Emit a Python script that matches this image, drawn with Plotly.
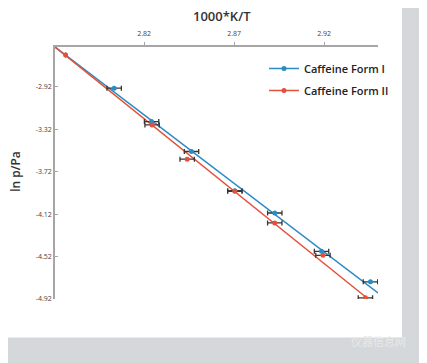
import plotly.graph_objects as go

# Data
form1_x = [2.8033, 2.8241, 2.8463, 2.8704, 2.8926, 2.9186, 2.9458]
form1_y = [-2.932, -3.247, -3.529, -3.899, -4.109, -4.470, -4.758]
form1_err = [0.004, 0.004, 0.004, 0.004, 0.004, 0.004, 0.004]
form2_x = [2.7763, 2.8244, 2.8439, 2.8704, 2.8926, 2.9194, 2.9430]
form2_y = [-2.619, -3.278, -3.601, -3.905, -4.203, -4.508, -4.909]
form2_err = [0.0, 0.004, 0.004, 0.004, 0.004, 0.004, 0.004]

trend1_x = [2.7704, 2.9500]
trend1_y = [-2.5435, -4.8617]
trend2_x = [2.7704, 2.9432]
trend2_y = [-2.5435, -4.9012]

x_ticks = [2.82, 2.87, 2.92]
y_ticks = [-2.92, -3.32, -3.72, -4.12, -4.52, -4.92]

names = ["Caffeine Form I", "Caffeine Form II"]
blue = "#2a8cc4"
red = "#e4503a"
err_col = "#3a3434"

# the page body has an 8px margin; work in reference pixels and shift
OFF = 8
W, H = 427 - OFF, 363 - OFF
L, R, T, B = 55 - OFF, 378 - OFF, 47 - OFF, 299.5 - OFF


def px_x(p):
    return (p - OFF - L) / (R - L)


def px_y(p):
    return (B - (p - OFF)) / (B - T)


fig = go.Figure()

fig.add_trace(go.Scatter(x=trend1_x, y=trend1_y, mode="lines",
                         line=dict(color=blue, width=1.5), showlegend=False, hoverinfo="skip"))
fig.add_trace(go.Scatter(x=trend2_x, y=trend2_y, mode="lines",
                         line=dict(color=red, width=1.5), showlegend=False, hoverinfo="skip"))

for xs, ys, errs, col in [(form1_x, form1_y, form1_err, blue), (form2_x, form2_y, form2_err, red)]:
    fig.add_trace(go.Scatter(
        x=xs, y=ys, mode="markers",
        marker=dict(color=col, size=5),
        error_x=dict(type="data", array=errs, color=err_col, thickness=1.3, width=2.5),
        showlegend=False))

for name, col, grp in [(names[0], blue, "a"), (names[1], red, "b")]:
    fig.add_trace(go.Scatter(x=[None], y=[None], mode="lines+markers", name=name,
                             legendgroup=grp,
                             line=dict(color=col, width=1.5), marker=dict(color=col, size=5)))

shapes = [
    dict(type="rect", xref="paper", yref="paper", x0=px_x(402), x1=px_x(440),
         y0=px_y(380), y1=px_y(-20), fillcolor="#d5d8da", line_width=0, layer="below"),
    dict(type="rect", xref="paper", yref="paper", x0=px_x(-20), x1=px_x(440),
         y0=px_y(380), y1=px_y(338), fillcolor="#d5d8da", line_width=0, layer="below"),
]

annotations = [
    dict(text="1000*K/T", xref="paper", yref="paper", x=px_x(222), y=px_y(16),
         xanchor="center", yanchor="middle", showarrow=False,
         font=dict(size=13, color="#333", weight=600)),
    dict(text="ln p/Pa", xref="paper", yref="paper", x=px_x(16), y=px_y(172),
         xanchor="center", yanchor="middle", showarrow=False, textangle=-90,
         font=dict(size=12, color="#333", weight=600)),
    dict(text="仪器信息网", xref="paper", yref="paper", x=px_x(378), y=px_y(342),
         xanchor="center", yanchor="middle", showarrow=False,
         font=dict(size=11, color="#e6e8ea", family="Noto Sans CJK SC")),
]

fig.update_layout(
    width=W, height=H,
    margin=dict(l=L, r=W - R, t=T, b=H - B, autoexpand=False),
    paper_bgcolor="white", plot_bgcolor="white",
    font=dict(family="Open Sans, DejaVu Sans, sans-serif", color="#333"),
    shapes=shapes,
    annotations=annotations,
    showlegend=True,
    legend=dict(x=px_x(264), y=px_y(54), xanchor="left", yanchor="top",
                bgcolor="rgba(0,0,0,0)", font=dict(size=11, color="#222", weight=600),
                traceorder="grouped", tracegroupgap=3, itemwidth=30),
    xaxis=dict(side="top", range=[trend1_x[0], 2.95], tickvals=x_ticks,
               ticktext=[f"{v:.2f}" for v in x_ticks],
               showgrid=False, zeroline=False, showline=True, linecolor="#a6a6a6", linewidth=1.5,
               ticks="outside", ticklen=3, tickcolor="#a6a6a6", ticklabelstandoff=3,
               tickfont=dict(size=7, color="#444")),
    yaxis=dict(range=[-4.92, trend1_y[0]], tickvals=y_ticks,
               ticktext=[f"{v:.2f}" for v in y_ticks],
               showgrid=False, zeroline=False, showline=True, linecolor="#a6a6a6", linewidth=1.5,
               ticks="inside", ticklen=3, tickcolor="#a6a6a6",
               tickfont=dict(size=7, color="#444")),
)

fig.write_html("out.html")
